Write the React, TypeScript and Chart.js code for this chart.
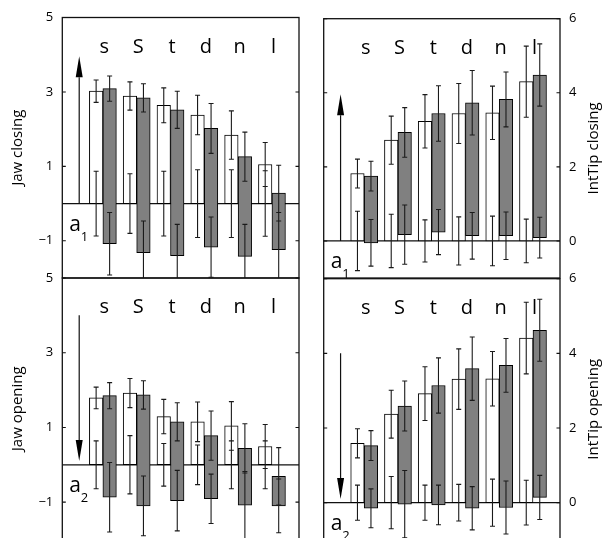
import React, { useEffect, useRef } from 'react';
import { Chart, registerables } from 'chart.js';

Chart.register(...registerables);
Chart.defaults.font.family = "'Open Sans', sans-serif";

// ---------- data ----------
const categories = ['s', 'S', 't', 'd', 'n', 'l'];
const categoryPositions = [1, 2, 3, 4, 5, 6];

const jawTicks = [-1, 1, 3, 5];
const intTipTicks = [0, 2, 4, 6];

const zeroBase = [0, 0, 0, 0, 0, 0];

// Jaw closing (top left)
const jawClosingWhiteTop = [3.02, 2.89, 2.64, 2.38, 1.84, 1.05];
const jawClosingWhiteTopErr = [0.3, 0.38, 0.47, 0.53, 0.65, 0.59];
const jawClosingWhiteBottomErr = [0.87, 0.8, 0.87, 0.91, 0.91, 0.88];
const jawClosingGrayTop = [3.09, 2.84, 2.52, 2.02, 1.26, 0.28];
const jawClosingGrayTopErr = [0.34, 0.38, 0.5, 0.67, 0.66, 0.75];
const jawClosingGrayBottom = [-1.08, -1.32, -1.4, -1.17, -1.42, -1.24];
const jawClosingGrayBottomErr = [0.84, 0.85, 0.84, 0.81, 0.86, 1.0];

// IntTip closing (top right)
const tipClosingWhiteTop = [1.82, 2.72, 3.23, 3.44, 3.46, 4.3];
const tipClosingWhiteTopErr = [0.39, 0.65, 0.72, 0.81, 0.72, 0.96];
const tipClosingWhiteBottomErr = [0.8, 0.72, 0.57, 0.65, 0.67, 0.59];
const tipClosingGrayTop = [1.75, 2.93, 3.44, 3.73, 3.82, 4.48];
const tipClosingGrayTopErr = [0.4, 0.67, 0.75, 0.87, 0.74, 0.84];
const tipClosingGrayBottom = [-0.05, 0.17, 0.24, 0.14, 0.14, 0.09];
const tipClosingGrayBottomErr = [0.63, 0.8, 0.61, 0.63, 0.64, 0.55];

// Jaw opening (bottom left)
const jawOpeningWhiteTop = [1.79, 1.92, 1.29, 1.15, 1.04, 0.49];
const jawOpeningWhiteTopErr = [0.29, 0.39, 0.46, 0.53, 0.65, 0.59];
const jawOpeningWhiteBottomErr = [0.64, 0.78, 0.57, 0.53, 0.64, 0.64];
const jawOpeningGrayTop = [1.85, 1.87, 1.15, 0.78, 0.44, -0.31];
const jawOpeningGrayTopErr = [0.35, 0.38, 0.51, 0.66, 0.66, 0.77];
const jawOpeningGrayBottom = [-0.87, -1.1, -0.96, -0.91, -1.08, -1.1];
const jawOpeningGrayBottomErr = [0.93, 0.8, 0.81, 0.66, 0.9, 0.72];

// IntTip opening (bottom right)
const tipOpeningWhiteTop = [1.59, 2.37, 2.92, 3.31, 3.32, 4.41];
const tipOpeningWhiteTopErr = [0.39, 0.64, 0.72, 0.81, 0.73, 0.96];
const tipOpeningWhiteBottomErr = [0.47, 0.7, 0.47, 0.49, 0.63, 0.6];
const tipOpeningGrayTop = [1.53, 2.59, 3.14, 3.59, 3.68, 4.62];
const tipOpeningGrayTopErr = [0.4, 0.67, 0.74, 0.85, 0.72, 0.83];
const tipOpeningGrayBottom = [-0.15, -0.04, -0.06, -0.15, -0.13, 0.14];
const tipOpeningGrayBottomErr = [0.52, 0.9, 0.53, 0.58, 0.71, 0.59];

// arrows: [from, to] in y units, at x = arrowX
const arrowX = 0.3;
const closingArrow = [0, 3.96];
const openingArrow = [4.0, 0.1];

type Series = { lo: number[]; hi: number[]; loErr: number[]; hiErr: number[] };
type PanelDef = {
  title: string;
  side: 'left' | 'right';
  sub: string;
  yMin: number;
  yMax: number;
  ticks: number[];
  arrow: number[];
  white: Series;
  gray: Series;
  box: { left: number; top: number; width: number; height: number };
  padding: { left: number; right: number; top: number; bottom: number };
  axisWidth: number;
};

const panels: PanelDef[] = [
  {
    title: 'Jaw closing', side: 'left', sub: '1', yMin: -2, yMax: 5, ticks: jawTicks, arrow: closingArrow,
    white: { lo: zeroBase, hi: jawClosingWhiteTop, loErr: jawClosingWhiteBottomErr, hiErr: jawClosingWhiteTopErr },
    gray: { lo: jawClosingGrayBottom, hi: jawClosingGrayTop, loErr: jawClosingGrayBottomErr, hiErr: jawClosingGrayTopErr },
    box: { left: 0, top: -13, width: 301, height: 321 },
    padding: { left: 0, right: 2, top: 30.5, bottom: 30 },
    axisWidth: 62.3,
  },
  {
    title: 'IntTip closing', side: 'right', sub: '1', yMin: -1, yMax: 6, ticks: intTipTicks, arrow: closingArrow,
    white: { lo: zeroBase, hi: tipClosingWhiteTop, loErr: tipClosingWhiteBottomErr, hiErr: tipClosingWhiteTopErr },
    gray: { lo: tipClosingGrayBottom, hi: tipClosingGrayTop, loErr: tipClosingGrayBottomErr, hiErr: tipClosingGrayTopErr },
    box: { left: 301, top: -12, width: 301, height: 320 },
    padding: { left: 22.7, right: 0, top: 30.7, bottom: 30 },
    axisWidth: 42,
  },
  {
    title: 'Jaw opening', side: 'left', sub: '2', yMin: -2, yMax: 5, ticks: jawTicks, arrow: openingArrow,
    white: { lo: zeroBase, hi: jawOpeningWhiteTop, loErr: jawOpeningWhiteBottomErr, hiErr: jawOpeningWhiteTopErr },
    gray: { lo: jawOpeningGrayBottom, hi: jawOpeningGrayTop, loErr: jawOpeningGrayBottomErr, hiErr: jawOpeningGrayTopErr },
    box: { left: 0, top: 248, width: 301, height: 322 },
    padding: { left: 0, right: 2, top: 30, bottom: 30.5 },
    axisWidth: 62.3,
  },
  {
    title: 'IntTip opening', side: 'right', sub: '2', yMin: -1, yMax: 6, ticks: intTipTicks, arrow: openingArrow,
    white: { lo: zeroBase, hi: tipOpeningWhiteTop, loErr: tipOpeningWhiteBottomErr, hiErr: tipOpeningWhiteTopErr },
    gray: { lo: tipOpeningGrayBottom, hi: tipOpeningGrayTop, loErr: tipOpeningGrayBottomErr, hiErr: tipOpeningGrayTopErr },
    box: { left: 301, top: 248, width: 301, height: 322 },
    padding: { left: 22.7, right: 0, top: 30.7, bottom: 30 },
    axisWidth: 42,
  },
];

const FONT = "'Open Sans', sans-serif";
const INK = '#111';

function drawErr(ctx: CanvasRenderingContext2D, bx: number, yScale: any, v: number, e: number) {
  const cap = 2.5;
  const yt = yScale.getPixelForValue(v + e);
  const yb = yScale.getPixelForValue(v - e);
  ctx.moveTo(bx, yt);
  ctx.lineTo(bx, yb);
  ctx.moveTo(bx - cap, yt);
  ctx.lineTo(bx + cap, yt);
  ctx.moveTo(bx - cap, yb);
  ctx.lineTo(bx + cap, yb);
}

function makePlugin(p: PanelDef) {
  return {
    id: 'panelDecor',
    beforeDatasetsDraw(chart: any) {
      const { ctx, chartArea: a, scales } = chart;
      const y0 = scales.y.getPixelForValue(0);
      ctx.save();
      ctx.strokeStyle = INK;
      ctx.lineWidth = 1.2;
      ctx.beginPath();
      ctx.moveTo(a.left, y0);
      ctx.lineTo(a.right, y0);
      ctx.stroke();
      ctx.restore();
    },
    afterDatasetsDraw(chart: any) {
      const { ctx, chartArea: a, scales } = chart;
      const xs = scales.x;
      const ys = scales.y;
      const y0 = ys.getPixelForValue(0);

      ctx.save();
      ctx.beginPath();
      ctx.rect(a.left, a.top, a.right - a.left, a.bottom - a.top);
      ctx.clip();

      // error bars
      ctx.strokeStyle = '#1a1a1a';
      ctx.lineWidth = 1.1;
      ctx.beginPath();
      [p.white, p.gray].forEach((s, d) => {
        const meta = chart.getDatasetMeta(d);
        meta.data.forEach((bar: any, i: number) => {
          drawErr(ctx, bar.x, ys, s.hi[i], s.hiErr[i]);
          drawErr(ctx, bar.x, ys, s.lo[i], s.loErr[i]);
        });
      });
      ctx.stroke();

      // arrow
      const ax = xs.getPixelForValue(arrowX);
      const yFrom = ys.getPixelForValue(p.arrow[0]);
      const yTo = ys.getPixelForValue(p.arrow[1]);
      const dir = yTo < yFrom ? -1 : 1;
      const headLen = 21;
      const headHalf = 3.5;
      const yBase = yTo - dir * headLen;
      ctx.strokeStyle = INK;
      ctx.lineWidth = 1.2;
      ctx.beginPath();
      ctx.moveTo(ax, yFrom);
      ctx.lineTo(ax, yBase);
      ctx.stroke();
      ctx.fillStyle = '#000';
      ctx.beginPath();
      ctx.moveTo(ax, yTo);
      ctx.lineTo(ax - headHalf, yBase);
      ctx.lineTo(ax + headHalf, yBase);
      ctx.closePath();
      ctx.fill();

      // category labels
      ctx.fillStyle = '#000';
      ctx.font = `20px ${FONT}`;
      ctx.textAlign = 'center';
      ctx.textBaseline = 'alphabetic';
      categories.forEach((c, i) => {
        ctx.fillText(c, xs.getPixelForValue(categoryPositions[i]) + 1.5, a.top + 35);
      });

      // a1 / a2
      ctx.textAlign = 'left';
      ctx.font = `21px ${FONT}`;
      ctx.fillText('a', a.left + 7, y0 + 27);
      ctx.font = `13px ${FONT}`;
      ctx.fillText(p.sub, a.left + 18.5, y0 + 37.5);

      ctx.restore();

      // inward ticks
      ctx.save();
      ctx.strokeStyle = INK;
      ctx.lineWidth = 1.1;
      ctx.beginPath();
      p.ticks.forEach((t) => {
        const ty = ys.getPixelForValue(t);
        ctx.moveTo(a.left, ty);
        ctx.lineTo(a.left + 3.5, ty);
        ctx.moveTo(a.right - 3.5, ty);
        ctx.lineTo(a.right, ty);
      });
      ctx.stroke();

      // frame
      ctx.lineWidth = 1.3;
      ctx.strokeRect(a.left, a.top, a.right - a.left, a.bottom - a.top);

      // axis title, reading bottom to top
      const tx = p.side === 'left' ? a.left - 40 : a.right + 38;
      const cy = (a.top + a.bottom) / 2;
      ctx.translate(tx, cy);
      ctx.rotate(-Math.PI / 2);
      ctx.fillStyle = '#000';
      ctx.font = `15px ${FONT}`;
      ctx.textAlign = 'center';
      ctx.textBaseline = 'alphabetic';
      ctx.fillText(p.title, 0, 0);
      ctx.restore();
    },
  };
}

function Panel({ p }: { p: PanelDef }) {
  const ref = useRef<HTMLCanvasElement>(null);
  useEffect(() => {
    if (!ref.current) return;
    const mk = (s: Series) => categoryPositions.map((x, i) => ({ x, y: [s.lo[i], s.hi[i]] }));
    const chart = new Chart(ref.current, {
      type: 'bar',
      data: {
        datasets: [
          {
            data: mk(p.white) as any,
            backgroundColor: '#ffffff',
            borderColor: '#000',
            borderWidth: 1,
            borderSkipped: false,
            barThickness: 13.5,
          },
          {
            data: mk(p.gray) as any,
            backgroundColor: '#808080',
            borderColor: '#000',
            borderWidth: 1,
            borderSkipped: false,
            barThickness: 13.5,
          },
        ],
      },
      options: {
        animation: false,
        responsive: false,
        events: [],
        layout: { padding: p.padding },
        plugins: { legend: { display: false }, tooltip: { enabled: false }, title: { display: false } },
        scales: {
          x: {
            type: 'linear',
            display: false,
            offset: false,
            min: -0.2,
            max: 6.8,
            afterBuildTicks: (s: any) => {
              s.ticks = categoryPositions.map((v) => ({ value: v }));
            },
          },
          y: {
            type: 'linear',
            position: p.side,
            min: p.yMin,
            max: p.yMax,
            grid: { display: false, drawTicks: false },
            border: { display: false },
            afterBuildTicks: (s: any) => {
              s.ticks = p.ticks.map((v) => ({ value: v }));
            },
            afterFit: (s: any) => {
              s.width = p.axisWidth;
            },
            ticks: {
              padding: 9,
              color: '#000',
              font: { size: 13, family: FONT },
              callback: (v: any) => String(v).replace('-', '\u2212'),
            },
          },
        },
      } as any,
      plugins: [makePlugin(p)],
    });
    return () => chart.destroy();
  }, [p]);
  return (
    <canvas
      ref={ref}
      width={p.box.width}
      height={p.box.height}
      style={{ position: 'absolute', left: p.box.left, top: p.box.top, width: p.box.width, height: p.box.height }}
    />
  );
}

export default function App() {
  return (
    <div style={{ position: 'fixed', left: 0, top: 0, width: 602, height: 538, overflow: 'hidden', background: '#fff' }}>
      {panels.map((p, i) => (
        <Panel key={i} p={p} />
      ))}
    </div>
  );
}
